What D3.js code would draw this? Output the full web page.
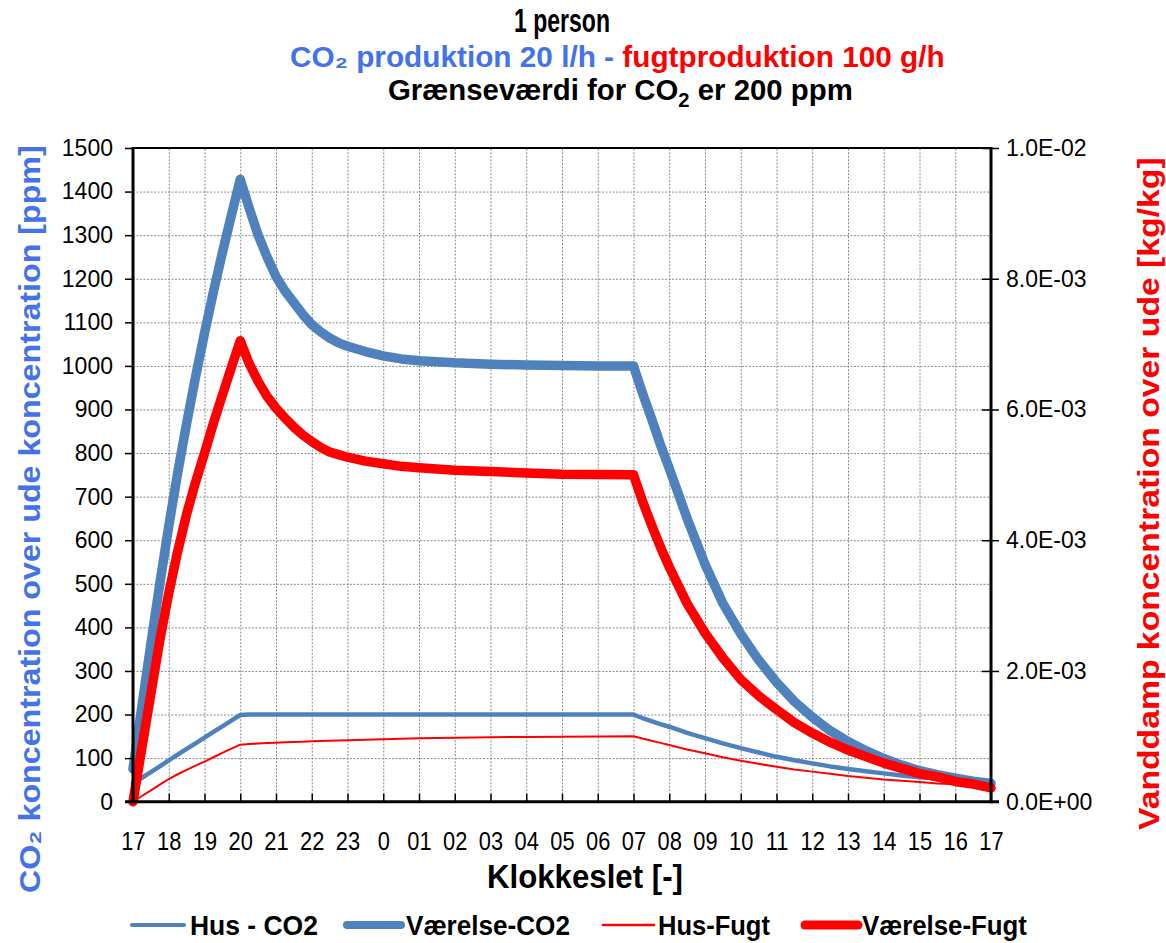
<!DOCTYPE html>
<html><head><meta charset="utf-8">
<script src="https://cdn.jsdelivr.net/npm/d3@7"></script>
<style>body{margin:0;background:#fff} svg{display:block} text{font-family:"Liberation Sans",Arial,sans-serif}</style>
</head><body><svg id="c" width="1166" height="943"></svg>
<script>
// hours after 17:00
const hours = [0,0.25,0.5,0.75,1,1.25,1.5,1.75,2,2.25,2.5,2.75,3,
  3.25,3.5,3.75,4,4.25,4.5,4.75,5,5.25,5.5,5.75,6,
  6.5,7,7.5,8,
  9,10,11,12,13,14,
  14.25,14.5,14.75,15,
  15.5,16,16.5,17,17.5,18,18.5,19,19.5,20,20.5,21,21.5,22,22.5,23,23.5,24];
// ppm
const husCO2 = [42,55,68,81,95,108,121,134,147,160,173,186,199,
  200,200,200,200,200,200,200,200,200,200,200,200,
  200,200,200,200,
  200,200,200,200,200,200,
  192,185,178,172,
  158,146,134,123,113,103,95,88,81,75,70,65,60,56,53,50,47,44];
const vaerelseCO2 = [75,220,362,500,632,755,868,975,1075,1170,1260,1345,1428,
  1362,1300,1250,1205,1172,1145,1118,1095,1078,1064,1053,1045,
  1033,1023,1016,1012,
  1007,1004,1002,1001,1000,1000,
  938,880,820,765,
  650,545,455,385,325,274,230,194,163,138,117,99,84,71,62,54,47,42];
// kg/kg
const husFugt = [0,0.087e-3,0.173e-3,0.26e-3,0.347e-3,0.42e-3,0.487e-3,0.553e-3,0.613e-3,0.68e-3,0.747e-3,0.813e-3,0.873e-3,
  0.883e-3,0.89e-3,0.897e-3,0.903e-3,0.909e-3,0.913e-3,0.918e-3,0.923e-3,0.927e-3,0.931e-3,0.935e-3,0.94e-3,
  0.947e-3,0.957e-3,0.963e-3,0.97e-3,
  0.98e-3,0.987e-3,0.991e-3,0.995e-3,0.998e-3,1.0e-3,
  0.967e-3,0.933e-3,0.9e-3,0.867e-3,
  0.8e-3,0.74e-3,0.68e-3,0.627e-3,0.58e-3,0.533e-3,0.493e-3,0.46e-3,0.427e-3,0.393e-3,0.367e-3,0.34e-3,0.32e-3,0.3e-3,0.28e-3,0.267e-3,0.247e-3,0.227e-3];
const vaerelseFugt = [0,0.83e-3,1.65e-3,2.47e-3,3.19e-3,3.83e-3,4.4e-3,4.89e-3,5.33e-3,5.79e-3,6.22e-3,6.64e-3,7.05e-3,
  6.7e-3,6.43e-3,6.2e-3,6.02e-3,5.87e-3,5.73e-3,5.61e-3,5.51e-3,5.42e-3,5.35e-3,5.31e-3,5.27e-3,
  5.21e-3,5.17e-3,5.13e-3,5.11e-3,
  5.07e-3,5.05e-3,5.03e-3,5.01e-3,5.005e-3,5.0e-3,
  4.6e-3,4.24e-3,3.9e-3,3.59e-3,
  3.03e-3,2.58e-3,2.2e-3,1.87e-3,1.62e-3,1.41e-3,1.21e-3,1.05e-3,0.91e-3,0.79e-3,0.69e-3,0.59e-3,0.51e-3,0.43e-3,0.38e-3,0.31e-3,0.27e-3,0.21e-3];

const xTickLabels = ["17","18","19","20","21","22","23","0","01","02","03","04","05","06","07","08","09","10","11","12","13","14","15","16","17"];
const leftTicks = [0,100,200,300,400,500,600,700,800,900,1000,1100,1200,1300,1400,1500];
const rightTicks = [0,0.002,0.004,0.006,0.008,0.01];
const rightTickLabels = ["0.0E+00","2.0E-03","4.0E-03","6.0E-03","8.0E-03","1.0E-02"];
const seriesNames = ["Hus - CO2","Værelse-CO2","Hus-Fugt","Værelse-Fugt"];

const BLUE = "#4f81bd", RED = "#ff0000", TBLUE = "#4472e8";
const L = 133, R = 991, T = 148, B = 801.7;
const svg = d3.select("#c");
const x = d3.scaleLinear([0, 24], [L, R]);
const yL = d3.scaleLinear([0, 1500], [B, T]);
const yR = d3.scaleLinear([0, 0.01], [B, T]);

// grid
const grid = svg.append("g");
grid.append("g").attr("transform", `translate(0,${B})`)
  .call(d3.axisBottom(x).tickValues(xTickLabels.map((d,i)=>i).filter(i=>i>0&&i<24)).tickSize(-(B-T)).tickFormat(""))
  .call(g=>g.select(".domain").remove());
grid.append("g").attr("transform", `translate(${L},0)`)
  .call(d3.axisLeft(yL).tickValues(leftTicks.filter(v=>v>0&&v<1500)).tickSize(-(R-L)).tickFormat(""))
  .call(g=>g.select(".domain").remove());
grid.selectAll("line").attr("stroke","#8a8a8a").attr("stroke-width",1).attr("stroke-dasharray","2,1.5");

// series
const series = [
  {vals: husCO2, y: yL, color: BLUE, w: 4.5},
  {vals: vaerelseCO2, y: yL, color: BLUE, w: 9.5},
  {vals: husFugt, y: yR, color: RED, w: 2},
  {vals: vaerelseFugt, y: yR, color: RED, w: 9.5}
];
series.forEach(s => {
  const line = d3.line().x((d,i)=>x(hours[i])).y(d=>s.y(d));
  svg.append("path").datum(s.vals).attr("d", line).attr("fill","none")
    .attr("stroke", s.color).attr("stroke-width", s.w)
    .attr("stroke-linejoin","round").attr("stroke-linecap","round");
});

// axes
const fs = 23;
const ax = svg.append("g");
const xa = ax.append("g").attr("transform", `translate(0,${B})`)
  .call(d3.axisBottom(x).tickValues(xTickLabels.map((d,i)=>i)).tickSizeInner(-8).tickSizeOuter(0).tickPadding(30).tickFormat((d,i)=>xTickLabels[i]));
xa.select(".domain").remove();
xa.selectAll(".tick text").attr("font-size", 26).attr("fill","#000").attr("transform","scale(0.84,1)");
const ya = ax.append("g").attr("transform", `translate(${L},0)`)
  .call(d3.axisLeft(yL).tickValues(leftTicks).tickSizeInner(8).tickSizeOuter(0).tickPadding(12).tickFormat(d => String(d)));
ya.select(".domain").remove();
ya.selectAll("text").attr("font-size", fs).attr("fill","#000");
const yra = ax.append("g").attr("transform", `translate(${R},0)`)
  .call(d3.axisRight(yR).tickValues(rightTicks).tickSizeInner(8).tickSizeOuter(0).tickPadding(7).tickFormat((d,i)=>rightTickLabels[i]));
yra.select(".domain").remove();
yra.selectAll("text").attr("font-size", fs).attr("fill","#000");
const yri = ax.append("g").attr("transform", `translate(${R},0)`)
  .call(d3.axisRight(yR).tickValues(rightTicks).tickSizeInner(-9).tickSizeOuter(0).tickFormat(""));
yri.select(".domain").remove();
ax.selectAll(".tick line").attr("stroke","#000").attr("stroke-width",1.5);

// borders
const bd = svg.append("g").attr("stroke","#000").attr("fill","none");
bd.append("line").attr("x1",L).attr("x2",R).attr("y1",T).attr("y2",T).attr("stroke-width",2);
bd.append("line").attr("x1",L).attr("x2",L).attr("y1",T-1).attr("y2",B+1.5).attr("stroke-width",3);
bd.append("line").attr("x1",R).attr("x2",R).attr("y1",T-1).attr("y2",B+1.5).attr("stroke-width",3);
bd.append("line").attr("x1",L-8).attr("x2",R+8).attr("y1",B).attr("y2",B).attr("stroke-width",3);

// text fitting helper: scales text horizontally (in its own frame) to a target length
function fitText(parent, x0, y0, target, build, opts={}) {
  const g = parent.append("g");
  const t = g.append("text").attr("x",0).attr("y",0);
  build(t);
  const w = t.node().getBBox().width;
  const s = target / w;
  if (opts.rotate) g.attr("transform", `translate(${x0},${y0}) rotate(-90) scale(${s},1)`);
  else g.attr("transform", `translate(${x0},${y0}) scale(${s},1)`);
  return t;
}
const bold = t => t.attr("font-weight","bold");

// titles
fitText(svg, 514, 32, 96, t => bold(t).attr("font-size",33).attr("fill","#000").text("1 person"));
fitText(svg, 290, 67, 655, t => {
  bold(t).attr("font-size",29);
  t.append("tspan").attr("fill",TBLUE).text("CO₂  produktion 20 l/h - ");
  t.append("tspan").attr("fill",RED).text("fugtproduktion 100 g/h");
});
fitText(svg, 388, 100, 465, t => {
  bold(t).attr("font-size",29).attr("fill","#000");
  t.append("tspan").text("Grænseværdi for CO");
  t.append("tspan").attr("font-size",20).attr("dy",7).text("2");
  t.append("tspan").attr("dy",-7).text(" er 200 ppm");
});
fitText(svg, 487, 888, 196, t => bold(t).attr("font-size",33).attr("fill","#000").text("Klokkeslet [-]"));
fitText(svg, 40, 893, 748, t => bold(t).attr("font-size",30).attr("fill",TBLUE).text("CO₂ koncentration over ude koncentration [ppm]"), {rotate:true});
fitText(svg, 1159, 830, 673, t => bold(t).attr("font-size",30).attr("fill",RED).text("Vanddamp koncentration over ude [kg/kg]"), {rotate:true});

// legend
const legendItems = [
  {name: seriesNames[0], color: BLUE, w: 4, x1: 132, x2: 184, tx: 190, tw: 128},
  {name: seriesNames[1], color: BLUE, w: 8, x1: 347, x2: 401, tx: 406, tw: 164},
  {name: seriesNames[2], color: RED, w: 2.5, x1: 603, x2: 654, tx: 658, tw: 112},
  {name: seriesNames[3], color: RED, w: 9, x1: 805, x2: 858, tx: 862, tw: 165}
];
const lg = svg.append("g");
legendItems.forEach(it => {
  lg.append("line").attr("x1",it.x1).attr("x2",it.x2).attr("y1",925).attr("y2",925)
    .attr("stroke",it.color).attr("stroke-width",it.w).attr("stroke-linecap","round");
  fitText(lg, it.tx, 935, it.tw, t => bold(t).attr("font-size",28).attr("fill","#000").text(it.name));
});
</script></body></html>
